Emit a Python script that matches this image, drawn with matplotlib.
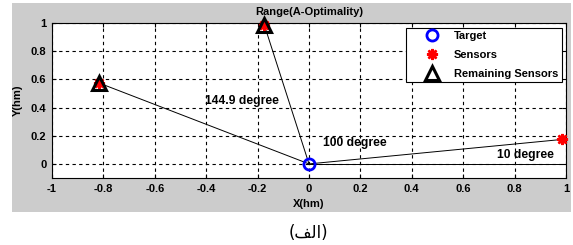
import numpy as np
import matplotlib
matplotlib.use('Agg')
import matplotlib.pyplot as plt
from matplotlib.patches import Rectangle

# sensor bearings (degrees) seen from the target at the origin
target = (0.0, 0.0)
sensor_angles = [10.0, 100.0, 144.9]
remaining_angles = [100.0, 144.9]
angle_labels = ['10 degree', '100 degree', '144.9 degree']
label_pos = [(0.73, 0.062), (0.054, 0.147), (-0.405, 0.447)]
x_ticks = [-1, -0.8, -0.6, -0.4, -0.2, 0, 0.2, 0.4, 0.6, 0.8, 1]
y_ticks = [0, 0.2, 0.4, 0.6, 0.8, 1]

plt.rcParams['font.family'] = ['Liberation Sans', 'DejaVu Sans']
plt.rcParams['font.weight'] = 'bold'

W, H = 573, 245
fig = plt.figure(figsize=(W / 100, H / 100), dpi=100)
fig.patch.set_facecolor('white')

# MATLAB-like grey figure panel
fig.patches.append(Rectangle((12 / W, (H - 212) / H), (571 - 12) / W, (212 - 3) / H,
                             transform=fig.transFigure, facecolor='#cccccc',
                             edgecolor='none', zorder=-10))

ax = fig.add_axes([52 / W, (H - 178) / H, (566 - 52) / W, (178 - 23) / H])
ax.set_facecolor('white')

sx = np.cos(np.radians(sensor_angles))
sy = np.sin(np.radians(sensor_angles))
rx = np.cos(np.radians(remaining_angles))
ry = np.sin(np.radians(remaining_angles))

# lines from the target to each sensor, plus the zero-degree reference
for x, y in zip(sx, sy):
    ax.plot([target[0], x], [target[1], y], color='black', lw=0.7, zorder=2)
ax.plot([target[0], 1], [target[1], 0], color='black', lw=0.7, zorder=2)

ax.plot(target[0], target[1], 'o', ms=8, mfc='none', mec='blue', mew=2,
        zorder=5, label='Target')
ax.plot(sx, sy, linestyle='none', marker=(8, 2, 0), ms=8, mec='red', mew=1.8,
        color='red', zorder=3, clip_on=False, label='Sensors')
ax.plot(rx, ry, linestyle='none', marker='^', ms=10, mfc='none', mec='black',
        mew=2.2, zorder=4, clip_on=False, label='Remaining Sensors')

for txt, (x, y) in zip(angle_labels, label_pos):
    ax.text(x, y, txt, fontsize=8.7, fontweight='bold', va='center', ha='left')

ax.set_xlim(-1, 1)
ax.set_ylim(-0.1, 1)
ax.set_xticks(x_ticks)
ax.set_xticklabels(['%g' % v for v in x_ticks])
ax.set_yticks(y_ticks)
ax.set_yticklabels(['%g' % v for v in y_ticks])
ax.tick_params(direction='in', length=3, labelsize=8, top=True, right=True, pad=4)
for lab in ax.get_xticklabels() + ax.get_yticklabels():
    lab.set_fontweight('bold')
ax.grid(True, color='black', linestyle=(0, (3, 3)), lw=0.8)
for sp in ax.spines.values():
    sp.set_linewidth(0.8)

ax.set_title('Range(A-Optimality)', fontsize=8, fontweight='bold', pad=6)
ax.set_xlabel('X(hm)', fontsize=8, fontweight='bold', labelpad=4)
ax.set_ylabel('Y(hm)', fontsize=8, fontweight='bold', labelpad=6)

leg = ax.legend(loc='upper right', bbox_to_anchor=(0.992, 0.968), fontsize=8,
                fancybox=False, framealpha=1, edgecolor='black',
                handlelength=4.0, handletextpad=0.0, borderpad=0.3,
                labelspacing=0.8, borderaxespad=0)
leg.get_frame().set_linewidth(0.8)
for t in leg.get_texts():
    t.set_fontweight('bold')

# caption "(الف)" in visual order using Arabic presentation forms
fig.text(308 / W, (H - 233) / H, '(\ufed2\ufedf\ufe8d)', fontsize=12,
         family=['DejaVu Sans'], fontweight='normal', ha='center', va='center')

fig.savefig('out.png', dpi=100)
